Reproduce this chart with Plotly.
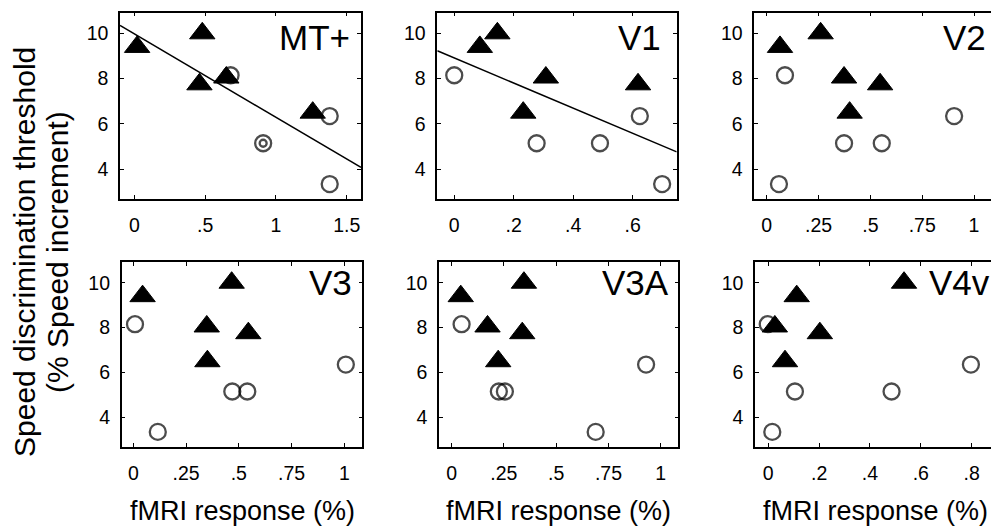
import numpy as np
import plotly.graph_objects as go

# Visual areas, one panel each
regions = ["MT+", "V1", "V2", "V3", "V3A", "V4v"]

# Speed discrimination thresholds (% speed increment), per subject
tri_y = [9.4, 10.0, 8.05, 6.5, 7.75]
circ_y = [8.15, 6.35, 5.15, 5.15, 3.35]

# fMRI response (%) for each subject in each area
tri_x = {
    "MT+": [0.02, 0.48, 0.65, 1.26, 0.46],
    "V1": [0.086, 0.145, 0.308, 0.232, 0.618],
    "V2": [0.064, 0.26, 0.373, 0.40, 0.547],
    "V3": [0.044, 0.466, 0.348, 0.351, 0.545],
    "V3A": [0.044, 0.346, 0.172, 0.223, 0.338],
    "V4v": [0.112, 0.534, 0.026, 0.066, 0.203],
}
circ_x = {
    "MT+": [0.68, 1.38, 0.91, 0.91, 1.38],
    "V1": [0.0, 0.624, 0.277, 0.49, 0.699],
    "V2": [0.088, 0.904, 0.373, 0.555, 0.059],
    "V3": [0.008, 1.007, 0.469, 0.54, 0.116],
    "V3A": [0.048, 0.93, 0.226, 0.255, 0.689],
    "V4v": [-0.002, 0.797, 0.105, 0.485, 0.016],
}

# Tick positions and labels
x_tickvals = {
    "MT+": [0, 0.5, 1, 1.5],
    "V1": [0, 0.2, 0.4, 0.6],
    "V2": [0, 0.25, 0.5, 0.75, 1],
    "V3": [0, 0.25, 0.5, 0.75, 1],
    "V3A": [0, 0.25, 0.5, 0.75, 1],
    "V4v": [0, 0.2, 0.4, 0.6, 0.8],
}
x_ticktext = {
    "MT+": ["0", ".5", "1", "1.5"],
    "V1": ["0", ".2", ".4", ".6"],
    "V2": ["0", ".25", ".5", ".75", "1"],
    "V3": ["0", ".25", ".5", ".75", "1"],
    "V3A": ["0", ".25", ".5", ".75", "1"],
    "V4v": ["0", ".2", ".4", ".6", ".8"],
}
y_tickvals = [4, 6, 8, 10]
y_ticktext = ["4", "6", "8", "10"]

# Areas with a fitted regression line
fitted = ["MT+", "V1"]

# Layout geometry (pixels)
W, H = 991, 526
panel_px = {
    "MT+": (120, 361, 12.7, 199),
    "V1": (437.3, 676.7, 12.7, 199),
    "V2": (754.3, 991, 12.7, 199),
    "V3": (121.7, 362.3, 262.3, 446.7),
    "V3A": (439, 678.3, 262.3, 446.7),
    "V4v": (755, 991, 262.3, 446.7),
}
x_ranges = {
    "MT+": [-0.101, 1.601],
    "V1": [-0.057, 0.748],
    "V2": [-0.06, 1.082],
    "V3": [-0.055, 1.085],
    "V3A": [-0.06, 1.084],
    "V4v": [-0.052, 0.876],
}
y_range = [2.69, 10.91]
label_right = {"MT+": 352, "V1": 663, "V2": 988, "V3": 354, "V3A": 671, "V4v": 992}

FONT = "Liberation Sans, Arial, Helvetica, sans-serif"

fig = go.Figure()
annotations = []

for i, reg in enumerate(regions):
    n = i + 1
    xa = "x" if n == 1 else f"x{n}"
    ya = "y" if n == 1 else f"y{n}"

    # regression line through all subjects
    if reg in fitted:
        xs = np.array(tri_x[reg] + circ_x[reg])
        ys = np.array(tri_y + circ_y)
        slope, icpt = np.polyfit(xs, ys, 1)
        lx = np.array(x_ranges[reg])
        fig.add_trace(go.Scatter(
            x=lx, y=slope * lx + icpt, mode="lines",
            line=dict(color="black", width=1.5),
            xaxis=xa, yaxis=ya, showlegend=False, hoverinfo="skip"))

    csizes = [16] * len(circ_x[reg])
    if reg == "MT+":
        csizes[3] = 7  # inner ring of the coincident pair
    fig.add_trace(go.Scatter(
        x=circ_x[reg], y=circ_y, mode="markers",
        marker=dict(symbol="circle-open", size=csizes, color="black",
                    line=dict(width=2.3, color="black")),
        xaxis=xa, yaxis=ya, showlegend=False))
    fig.add_trace(go.Scatter(
        x=tri_x[reg], y=tri_y, mode="markers",
        marker=dict(symbol="triangle-up", size=22, color="black",
                    line=dict(width=1, color="black")),
        xaxis=xa, yaxis=ya, showlegend=False))

    x0, x1, y0, y1 = panel_px[reg]
    right_col = reg in ("V2", "V4v")
    axis_common = dict(
        showline=True, linecolor="black", linewidth=1.5,
        ticks="inside", ticklen=4, tickwidth=1, tickcolor="black",
        showgrid=False, zeroline=False,
        tickfont=dict(family=FONT, size=19.5, color="black"),
    )
    fig.layout[f"xaxis{'' if n == 1 else n}"] = dict(
        domain=[x0 / W, x1 / W], range=x_ranges[reg], anchor=ya,
        tickmode="array", tickvals=x_tickvals[reg], ticktext=x_ticktext[reg],
        mirror="ticks", ticklabelstandoff=8, **axis_common)
    fig.layout[f"yaxis{'' if n == 1 else n}"] = dict(
        domain=[1 - y1 / H, 1 - y0 / H], range=y_range, anchor=xa,
        tickmode="array", tickvals=y_tickvals, ticktext=y_ticktext,
        mirror=False if right_col else "ticks", ticklabelstandoff=6,
        **axis_common)

    # area name in the upper right
    annotations.append(dict(
        text=reg, xref="paper", yref="paper",
        x=label_right[reg] / W, xanchor="right",
        y=1 - (y0 + 24.5) / H if y0 < 100 else 1 - (y0 + 20.5) / H,
        yanchor="middle", showarrow=False,
        font=dict(family=FONT, size=35, color="black")))

    # x-axis title under the bottom row
    if y0 > 100:
        annotations.append(dict(
            text="fMRI response (%)", xref="paper", yref="paper",
            x=(x0 + (x1 if not right_col else x0 + 241)) / 2 / W, xanchor="center",
            y=1 - 511 / H, yanchor="middle", showarrow=False,
            font=dict(family=FONT, size=27, color="black")))

# shared y-axis title, two rotated lines
for line_text, cx in [("Speed discrimination threshold", 24),
                      ("(% Speed increment)", 57)]:
    annotations.append(dict(
        text=line_text, xref="paper", yref="paper", x=cx / W, y=1 - 252 / H,
        xanchor="center", yanchor="middle", textangle=-90, showarrow=False,
        font=dict(family=FONT, size=30, color="black")))

fig.update_layout(
    width=W, height=H, margin=dict(l=0, r=0, t=0, b=0),
    paper_bgcolor="white", plot_bgcolor="white",
    annotations=annotations, showlegend=False,
)

fig.write_html("out.html")
